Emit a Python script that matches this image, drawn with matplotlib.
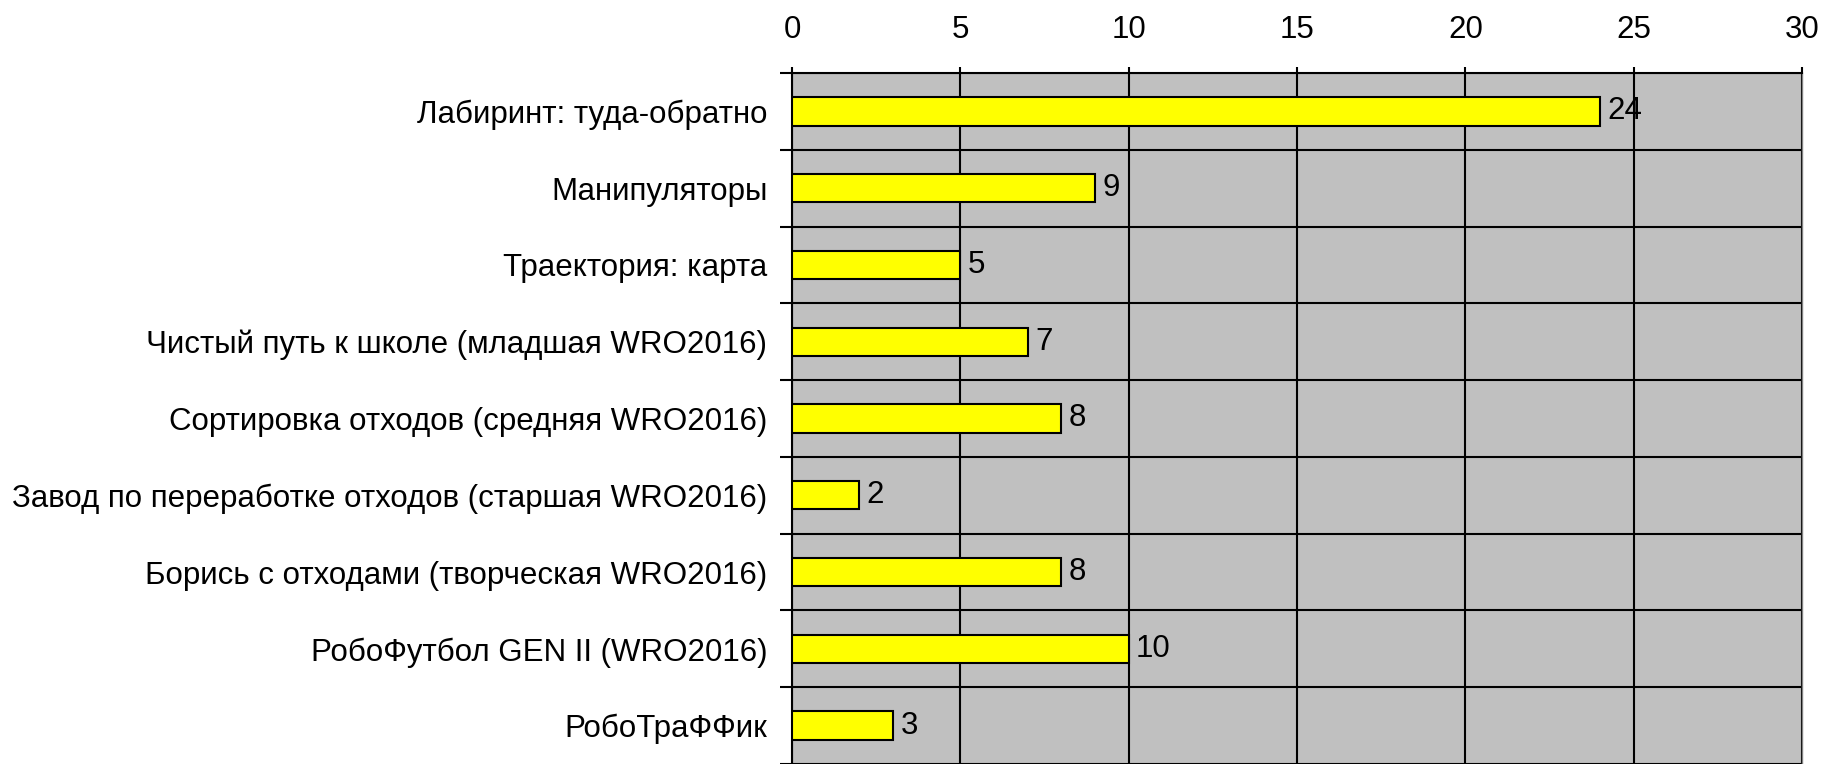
import numpy as np
import matplotlib
matplotlib.use("Agg")
import matplotlib.pyplot as plt
from matplotlib.ticker import MultipleLocator

# data
categories = [
    "Лабиринт: туда-обратно",
    "Манипуляторы",
    "Траектория: карта",
    "Чистый путь к школе (младшая WRO2016)",
    "Сортировка отходов (средняя WRO2016)",
    "Завод по переработке отходов (старшая WRO2016)",
    "Борись с отходами (творческая WRO2016)",
    "РобоФутбол GEN II (WRO2016)",
    "РобоТраФФик",
]
values = [24, 9, 5, 7, 8, 2, 8, 10, 3]
x_ticks = [0, 5, 10, 15, 20, 25, 30]

plt.rcParams['font.family'] = ['Liberation Sans', 'DejaVu Sans']
fs = 22.5

fig = plt.figure(figsize=(18.37, 7.64), dpi=100)
ax = fig.add_axes([792 / 1837, 0.0, (1802 - 792) / 1837, 1 - 73 / 764])
ax.set_facecolor('#C0C0C0')

y = np.arange(len(categories))
ax.barh(y, values, height=0.37, color='#FFFF00', edgecolor='black', linewidth=1.5, zorder=3)
for yi, v in zip(y, values):
    ax.text(v + 0.22, yi, str(v), va='center', ha='left', fontsize=fs, zorder=4)

ax.set_xlim(0, 30)
ax.set_ylim(len(categories) - 0.5, -0.5)
ax.set_xticks(x_ticks)
ax.xaxis.tick_top()
ax.tick_params(axis='x', length=4.5, width=1.5, pad=16, labelsize=fs, direction='out')

ax.set_yticks(y)
ax.set_yticklabels(categories, fontsize=fs)
ax.yaxis.set_minor_locator(MultipleLocator(1, offset=0.5))
ax.tick_params(axis='y', which='major', length=0, pad=17.7)
ax.tick_params(axis='y', which='minor', length=8.5, width=1.5, direction='out')

ax.grid(axis='x', which='major', color='black', linewidth=1.5, zorder=1)
ax.grid(axis='y', which='minor', color='black', linewidth=1.5, zorder=1)
ax.set_axisbelow(True)

ax.spines['top'].set_linewidth(1.5)
ax.spines['left'].set_linewidth(1.5)
ax.spines['right'].set_color('#808080')
ax.spines['right'].set_linewidth(1.0)
ax.spines['bottom'].set_visible(False)

fig.savefig("out.png", dpi=100)
